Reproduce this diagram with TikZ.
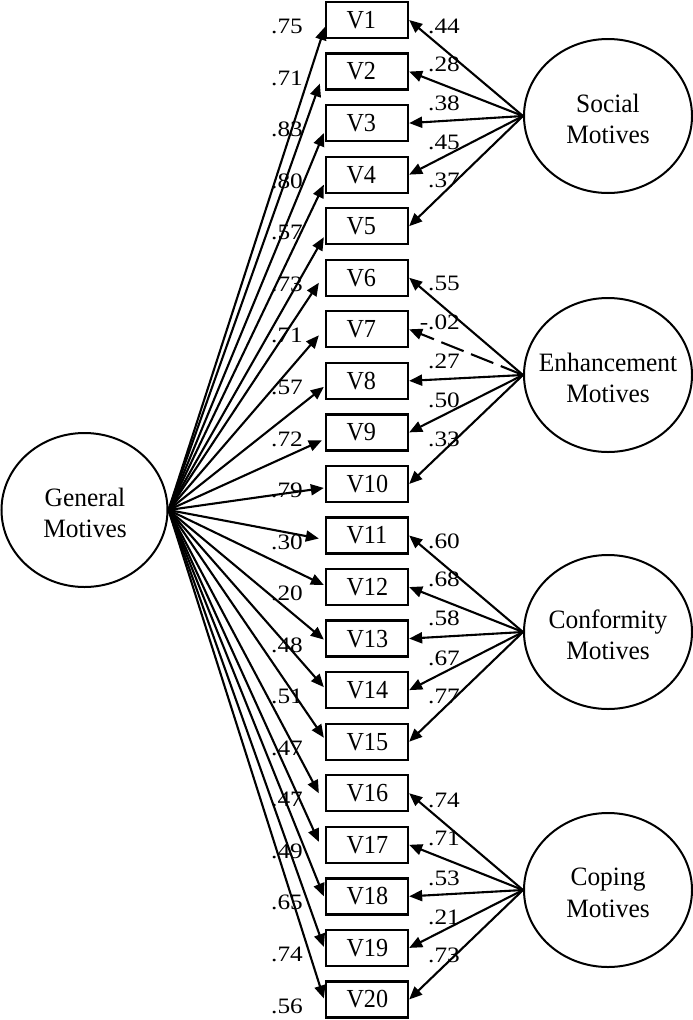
\documentclass[tikz,border=0pt]{standalone}
\usepackage{fontspec}
\setmainfont{Liberation Serif}
\newfontfamily\labfont[FakeStretch=1.15]{Liberation Serif}
\newfontfamily\boxfont[FakeStretch=0.93]{Liberation Serif}
\newfontfamily\latfont[FakeStretch=0.96]{Liberation Serif}
\usetikzlibrary{arrows.meta,shapes.geometric,calc}
\tikzset{
  obs/.style={draw, line width=2.3pt, minimum width=82pt, minimum height=36pt, inner ysep=0pt, inner xsep=20.5pt, font={\fontsize{26}{30}\boxfont}},
  latent/.style={draw, ellipse, line width=2pt, minimum width=166pt, minimum height=154pt, inner sep=0pt},
  lattext/.style={align=center, font={\fontsize{26.5}{31.5}\latfont}, inner sep=0pt},
  conn/.style={line width=2.1pt, -{Triangle[length=13pt,width=11pt]}},
  dashy/.style={dash pattern=on 24pt off 8pt},
  coef/.style={font={\fontsize{22}{25}\labfont}, inner sep=0pt, anchor=east},
}
\begin{document}
\begin{tikzpicture}[x=1pt,y=-1pt]
\useasboundingbox (0,0) rectangle (693,1020);
% observed variables
\foreach \i in {1,...,20}
  \node[obs] (V\i) at (367,{20+(\i-1)*51.55}) {\makebox[41pt][l]{V\i}};
% latent variables
\node[latent] (GM) at (84.5,510) {};
\node[lattext] (GMt) at (85,513) {General\\Motives};
\node[latent, minimum width=168pt] (SOC) at (608,116) {};
\node[lattext] (SOCt) at (608,119) {Social\\Motives};
\node[latent, minimum width=168pt] (ENH) at (608,375) {};
\node[lattext] (ENHt) at (608,378) {Enhancement\\Motives};
\node[latent, minimum width=168pt] (CON) at (608,632) {};
\node[lattext] (CONt) at (608,635) {Conformity\\Motives};
\node[latent, minimum width=168pt] (COP) at (608,890) {};
\node[lattext] (COPt) at (608,893) {Coping\\Motives};
% general factor loadings
\foreach \i/\dx/\dy/\lab in {1/0/7/.75, 2/-5/12/.71, 3/-1/10/.83, 4/-1/10/.80, 5/-1/11/.57,
  6/-6/5/.73, 7/-6/6/.71, 8/-1/6/.57, 9/-3/8/.72, 10/-1/4/.79,
  11/-6/3/.30, 12/-1/-2/.20, 13/-1/1/.48, 14/-1/-3/.51, 15/-1/-4/.47,
  16/-6/0/.47, 17/-6/-3/.49, 18/-1/0/.65, 19/-1/-1/.74, 20/-1/-1/.56} {
  \draw[conn] (GM.east) -- ($(V\i.west)+(\dx,\dy)$);
  \node[coef] (L\i) at ($(V\i.center)+(-64,6.5)$) {\lab};
}
% specific factor loadings
\foreach \src/\i/\off/\lab/\sty in {SOC/1/-90/.44/solid, SOC/2/-52/.28/solid, SOC/3/-13/.38/solid, SOC/4/26/.45/solid, SOC/5/64/.37/solid,
  ENH/6/-92/.55/solid, ENH/7/-53/-.02/dashy, ENH/8/-14/.27/solid, ENH/9/25/.50/solid, ENH/10/64/.33/solid,
  CON/11/-91/.60/solid, CON/12/-53/.68/solid, CON/13/-14/.58/solid, CON/14/26/.67/solid, CON/15/64/.77/solid,
  COP/16/-90/.74/solid, COP/17/-52/.71/solid, COP/18/-12/.53/solid, COP/19/27/.21/solid, COP/20/65/.73/solid} {
  \draw[conn,\sty] (\src.west) -- (V\i.east);
  \node[coef] (R\i) at ($(\src.west)+(-63,\off)$) {\lab};
}
\end{tikzpicture}
\end{document}
